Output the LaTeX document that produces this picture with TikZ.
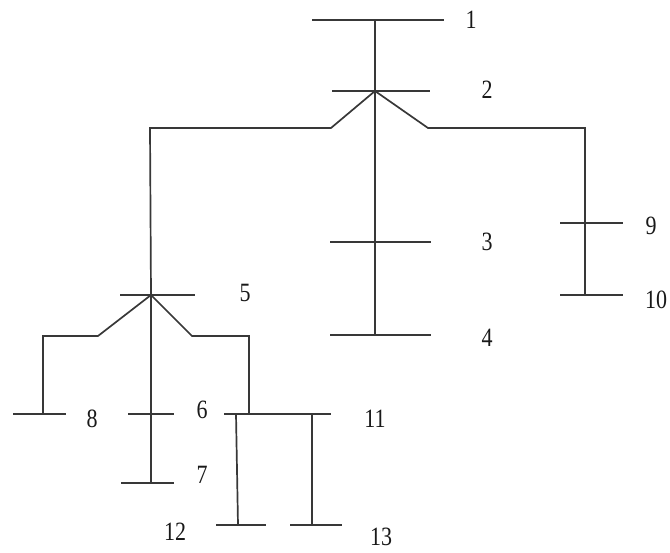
\documentclass[tikz,border=0pt]{standalone}
\usepackage{fontspec}
\setmainfont{Liberation Serif}
\begin{document}
\begin{tikzpicture}[x=1pt,y=-1pt,
  wire/.style={draw=black!78,line width=1.7pt},
  lbl/.style={font=\fontsize{22}{24}\selectfont,text=black!90,inner sep=0pt,yscale=1.2}]
\useasboundingbox (0,0) rectangle (670,553);
% bus ends
\coordinate (b1l) at (312,20);  \coordinate (b1r) at (444,20);  \coordinate (b1c) at (375,20);
\coordinate (b2l) at (332,91);  \coordinate (b2r) at (430,91);  \coordinate (b2c) at (375,91);
\coordinate (b3l) at (330,242); \coordinate (b3r) at (431,242); \coordinate (b3c) at (375,242);
\coordinate (b4l) at (330,335); \coordinate (b4r) at (431,335); \coordinate (b4c) at (375,335);
\coordinate (b9l) at (560,223); \coordinate (b9r) at (623,223); \coordinate (b9c) at (585,223);
\coordinate (b10l) at (560,295); \coordinate (b10r) at (623,295); \coordinate (b10c) at (585,295);
\coordinate (b5l) at (120,295); \coordinate (b5r) at (195,295); \coordinate (b5c) at (151,295);
\coordinate (b8l) at (13,414);  \coordinate (b8r) at (66,414);  \coordinate (b8c) at (43,414);
\coordinate (b6l) at (128,414); \coordinate (b6r) at (174,414); \coordinate (b6c) at (151,414);
\coordinate (b7l) at (121,483); \coordinate (b7r) at (174,483); \coordinate (b7c) at (151,483);
\coordinate (b11l) at (224,414); \coordinate (b11r) at (331,414); \coordinate (b11c) at (249,414);
\coordinate (b11a) at (236,414); \coordinate (b11b) at (312,414);
\coordinate (b12l) at (216,525); \coordinate (b12r) at (266,525); \coordinate (b12c) at (238,525);
\coordinate (b13l) at (290,525); \coordinate (b13r) at (342,525); \coordinate (b13c) at (312,525);
% bend points
\coordinate (k2l) at (331,128); \coordinate (k2lh) at (150,128);
\coordinate (k2r) at (428,128); \coordinate (k2rh) at (585,128);
\coordinate (k5l) at (98,336);  \coordinate (k5lh) at (43,336);
\coordinate (k5r) at (192,336); \coordinate (k5rh) at (249,336);
% buses
\foreach \b in {1,2,3,4,5,6,7,8,9,10,11,12,13}
  \draw[wire] (b\b l) -- (b\b r);
% lines
\draw[wire] (b1c) -- (b4c);
\draw[wire] (b2c) -- (k2l) -- (k2lh) -- (b5c);
\draw[wire] (b2c) -- (k2r) -- (k2rh) -- (b10c);
\draw[wire] (b5c) -- (b7c);
\draw[wire] (b5c) -- (k5l) -- (k5lh) -- (b8c);
\draw[wire] (b5c) -- (k5r) -- (k5rh) -- (b11c);
\draw[wire] (b11a) -- (b12c);
\draw[wire] (b11b) -- (b13c);
% labels
\node[lbl] (l1) at (471,20) {1};
\node[lbl] (l2) at (487,90) {2};
\node[lbl] (l3) at (487,242) {3};
\node[lbl] (l4) at (487,338) {4};
\node[lbl] (l5) at (245,293) {5};
\node[lbl] (l6) at (202,410) {6};
\node[lbl] (l7) at (202,475) {7};
\node[lbl] (l8) at (92,419) {8};
\node[lbl] (l9) at (651,226) {9};
\node[lbl] (l10) at (656,300) {10};
\node[lbl] (l11) at (375,419) {11};
\node[lbl] (l12) at (175,532) {12};
\node[lbl] (l13) at (381,537) {13};
\end{tikzpicture}
\end{document}
